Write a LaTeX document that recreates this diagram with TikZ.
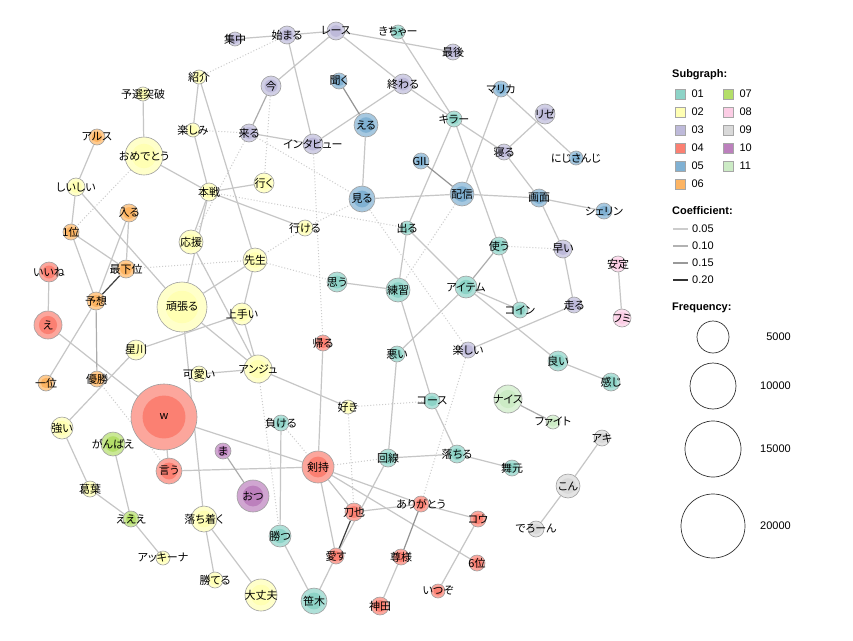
\documentclass[tikz,border=0pt]{standalone}
\usepackage{fontspec}
\newfontfamily\jp[RawFeature=+palt]{Noto Sans CJK JP}
\newfontfamily\lgd{Liberation Sans}
\usetikzlibrary{positioning, backgrounds}

\definecolor{c01}{HTML}{8DD3C7}
\definecolor{c02}{HTML}{FFFFB3}
\definecolor{c03}{HTML}{BEBADA}
\definecolor{c04}{HTML}{FB8072}
\definecolor{c05}{HTML}{80B1D3}
\definecolor{c06}{HTML}{FDB462}
\definecolor{c07}{HTML}{B3DE69}
\definecolor{c08}{HTML}{FCCDE5}
\definecolor{c09}{HTML}{D9D9D9}
\definecolor{c10}{HTML}{BC80BD}
\definecolor{c11}{HTML}{CCEBC5}
\newcommand{\lbl}[1]{\makebox[0pt]{#1}}

\begin{document}
\begin{tikzpicture}[
        x=1pt, y=-1pt,
        wd/.style 2 args={circle, inner sep=0pt, minimum size=2*#1, draw=gray!75, line width=0.6pt,
            fill=#2!70!white, font=\jp\fontsize{11}{12}\selectfont,
            path picture={\fill[#2] (path picture bounding box.center) circle (0.65*#1pt);}},
        e1/.style={draw=gray!45, line width=1.2pt},
        e2/.style={draw=gray!65, line width=1.2pt},
        e3/.style={draw=gray!85, line width=1.2pt},
        e4/.style={draw=black!75, line width=1.2pt},
        dot/.style={draw=gray!40, line width=1pt, dotted},
        sq/.style={rectangle, draw=gray!70, line width=0.6pt, minimum size=10pt, inner sep=0pt},
        lg/.style={font=\lgd\fontsize{11}{13}\selectfont, inner sep=0pt},
        lgh/.style={font=\lgd\bfseries\fontsize{11}{13}\selectfont, inner sep=0pt, anchor=west},
        freq/.style={circle, draw=black!80, line width=0.7pt, inner sep=0pt}
    ]
    \useasboundingbox (0,0) rectangle (853,640);
    \begin{scope}[on background layer]
        \fill[white] (0,0) rectangle (853,640);
    \end{scope}

    % subgraph 01
    \node[wd={7}{c01}] (kicha) at (398,32) {\lbl{きちゃー}};
    \node[wd={8}{c01}] (killer) at (454,119) {\lbl{キラー}};
    \node[wd={7}{c01}] (deru) at (407,228) {\lbl{出る}};
    \node[wd={9}{c01}] (tsukau) at (499,246) {\lbl{使う}};
    \node[wd={10}{c01}] (omou) at (337,282) {\lbl{思う}};
    \node[wd={12}{c01}] (renshu) at (398,290) {\lbl{練習}};
    \node[wd={11}{c01}] (item) at (466,287) {\lbl{アイテム}};
    \node[wd={8}{c01}] (coin) at (520,310) {\lbl{コイン}};
    \node[wd={8}{c01}] (warui) at (397,354) {\lbl{悪い}};
    \node[wd={10}{c01}] (yoi) at (558,361) {\lbl{良い}};
    \node[wd={9}{c01}] (kanji) at (611,382) {\lbl{感じ}};
    \node[wd={8}{c01}] (course) at (432,401) {\lbl{コース}};
    \node[wd={8}{c01}] (makeru) at (281,423) {\lbl{負ける}};
    \node[wd={9}{c01}] (kaisen) at (388,458) {\lbl{回線}};
    \node[wd={9}{c01}] (ochiru) at (457,454) {\lbl{落ちる}};
    \node[wd={8}{c01}] (maimoto) at (512,468) {\lbl{舞元}};
    \node[wd={11}{c01}] (katsu) at (280,536) {\lbl{勝つ}};
    \node[wd={13}{c01}] (sasaki) at (314,601) {\lbl{笹木}};

    % subgraph 02
    \node[wd={7}{c02}] (shokai) at (199,77) {\lbl{紹介}};
    \node[wd={7}{c02}] (yosen) at (143,94) {\lbl{予選突破}};
    \node[wd={19}{c02}] (omedeto) at (144,156) {\lbl{おめでとう}};
    \node[wd={7}{c02}] (tanoshimi) at (193,130) {\lbl{楽しみ}};
    \node[wd={9}{c02}] (shiishii) at (76,187) {\lbl{しいしい}};
    \node[wd={9}{c02}] (honsen) at (209,192) {\lbl{本戦}};
    \node[wd={10}{c02}] (iku) at (264,183) {\lbl{行く}};
    \node[wd={12}{c02}] (ouen) at (191,242) {\lbl{応援}};
    \node[wd={8}{c02}] (ikeru) at (305,228) {\lbl{行ける}};
    \node[wd={12}{c02}] (sensei) at (255,260) {\lbl{先生}};
    \node[wd={25}{c02}] (ganbaru) at (182,307) {\lbl{頑張る}};
    \node[wd={11}{c02}] (umai) at (242,314) {\lbl{上手い}};
    \node[wd={10}{c02}] (hoshikawa) at (136,350) {\lbl{星川}};
    \node[wd={8}{c02}] (kawaii) at (199,374) {\lbl{可愛い}};
    \node[wd={14}{c02}] (ange) at (258,369) {\lbl{アンジュ}};
    \node[wd={7}{c02}] (suki) at (348,407) {\lbl{好き}};
    \node[wd={11}{c02}] (tsuyoi) at (62,428) {\lbl{強い}};
    \node[wd={8}{c02}] (kuzuha) at (90,489) {\lbl{葛葉}};
    \node[wd={13}{c02}] (ochitsuku) at (204,519) {\lbl{落ち着く}};
    \node[wd={7}{c02}] (akkina) at (163,558) {\lbl{アッキーナ}};
    \node[wd={8}{c02}] (kateru) at (215,580) {\lbl{勝てる}};
    \node[wd={16}{c02}] (daijobu) at (261,595) {\lbl{大丈夫}};

    % subgraph 03
    \node[wd={7}{c03}] (shuchu) at (235,39) {\lbl{集中}};
    \node[wd={9}{c03}] (hajimaru) at (287,35) {\lbl{始まる}};
    \node[wd={9}{c03}] (race) at (336,31) {\lbl{レース}};
    \node[wd={8}{c03}] (saigo) at (453,52) {\lbl{最後}};
    \node[wd={10}{c03}] (ima) at (271,86) {\lbl{今}};
    \node[wd={9}{c03}] (kuru) at (249,133) {\lbl{来る}};
    \node[wd={10}{c03}] (interview) at (313,144) {\lbl{インタビュー}};
    \node[wd={10}{c03}] (owaru) at (403,84) {\lbl{終わる}};
    \node[wd={10}{c03}] (lize) at (545,114) {\lbl{リゼ}};
    \node[wd={8}{c03}] (neru) at (504,152) {\lbl{寝る}};
    \node[wd={9}{c03}] (hayai) at (563,249) {\lbl{早い}};
    \node[wd={8}{c03}] (hashiru) at (574,305) {\lbl{走る}};
    \node[wd={8}{c03}] (tanoshii) at (468,350) {\lbl{楽しい}};

    % subgraph 04
    \node[wd={10}{c04}] (iine) at (49,272) {\lbl{いいね}};
    \node[wd={14}{c04}] (e) at (48,325) {\lbl{え}};
    \node[wd={33}{c04}] (w) at (164,417) {\lbl{w}};
    \node[wd={13}{c04}] (iu) at (169,471) {\lbl{言う}};
    \node[wd={16}{c04}] (kenmochi) at (318,467) {\lbl{剣持}};
    \node[wd={8}{c04}] (kaeru) at (323,343) {\lbl{帰る}};
    \node[wd={8}{c04}] (arigato) at (421,504) {\lbl{ありがとう}};
    \node[wd={9}{c04}] (toya) at (354,512) {\lbl{刀也}};
    \node[wd={8}{c04}] (kou) at (478,519) {\lbl{コウ}};
    \node[wd={8}{c04}] (aisu) at (336,556) {\lbl{愛す}};
    \node[wd={8}{c04}] (takasama) at (401,557) {\lbl{尊様}};
    \node[wd={8}{c04}] (rokui) at (477,563) {\lbl{6位}};
    \node[wd={7}{c04}] (itsuzo) at (438,591) {\lbl{いつぞ}};
    \node[wd={9}{c04}] (kanda) at (380,606) {\lbl{神田}};

    % subgraph 05
    \node[wd={8}{c05}] (kiku) at (339,81) {\lbl{聞く}};
    \node[wd={12}{c05}] (eru) at (366,125) {\lbl{える}};
    \node[wd={8}{c05}] (marika) at (501,89) {\lbl{マリカ}};
    \node[wd={7}{c05}] (niji) at (576,158) {\lbl{にじさんじ}};
    \node[wd={8}{c05}] (gil) at (421,161) {\lbl{GIL}};
    \node[wd={12}{c05}] (haishin) at (462,194) {\lbl{配信}};
    \node[wd={13}{c05}] (miru) at (362,199) {\lbl{見る}};
    \node[wd={9}{c05}] (gamen) at (539,198) {\lbl{画面}};
    \node[wd={8}{c05}] (sherin) at (604,211) {\lbl{シェリン}};

    % subgraph 06
    \node[wd={8}{c06}] (arusu) at (97,137) {\lbl{アルス}};
    \node[wd={9}{c06}] (hairu) at (129,213) {\lbl{入る}};
    \node[wd={8}{c06}] (ichii) at (71,232) {\lbl{1位}};
    \node[wd={9}{c06}] (saikai) at (126,269) {\lbl{最下位}};
    \node[wd={9}{c06}] (yoso) at (96,301) {\lbl{予想}};
    \node[wd={8}{c06}] (ichii2) at (46,383) {\lbl{一位}};
    \node[wd={8}{c06}] (yusho) at (97,379) {\lbl{優勝}};

    % subgraphs 07 to 11
    \node[wd={12}{c07}] (ganbae) at (113,444) {\lbl{がんばえ}};
    \node[wd={8}{c07}] (eee) at (131,519) {\lbl{えええ}};
    \node[wd={8}{c08}] (antei) at (618,264) {\lbl{安定}};
    \node[wd={9}{c08}] (fumi) at (622,318) {\lbl{フミ}};
    \node[wd={8}{c09}] (aki) at (602,438) {\lbl{アキ}};
    \node[wd={12}{c09}] (kon) at (568,486) {\lbl{こん}};
    \node[wd={8}{c09}] (deron) at (536,529) {\lbl{でろーん}};
    \node[wd={8}{c10}] (ma) at (223,451) {\lbl{ま}};
    \node[wd={16}{c10}] (otsu) at (253,496) {\lbl{おつ}};
    \node[wd={14}{c11}] (nice) at (508,399) {\lbl{ナイス}};
    \node[wd={7}{c11}] (fight) at (553,422) {\lbl{ファイト}};

    % edges
    \begin{scope}[on background layer]
        \foreach \a/\b in {shuchu/hajimaru, hajimaru/race, hajimaru/interview, race/ima, race/saigo,
            race/owaru, kicha/killer, owaru/interview, owaru/killer, eru/miru, miru/haishin,
            haishin/gamen, gamen/sherin, marika/haishin, marika/niji, lize/neru, killer/neru,
            neru/gamen, gamen/hayai, killer/deru, killer/tsukau, tsukau/coin, deru/item,
            deru/renshu, omou/renshu, renshu/course, item/warui, item/coin, item/yoi, yoi/kanji,
            hayai/hashiru, hashiru/tanoshii, antei/fumi, warui/kaisen, course/ochiru,
            kaisen/ochiru, ochiru/maimoto, kaisen/aisu, kenmochi/toya, kenmochi/aisu,
            kenmochi/rokui, kenmochi/arigato, toya/arigato, arigato/kou, takasama/kanda,
            kou/itsuzo, aki/kon, kon/deron, kenmochi/kaeru, kenmochi/iu, w/kenmochi,
            aisu/sasaki, katsu/sasaki, makeru/katsu, w/iu, w/e, ganbaru/ochitsuku,
            ochitsuku/kateru, ochitsuku/daijobu, ganbae/eee, tsuyoi/kuzuha, kuzuha/eee,
            eee/akkina, tsuyoi/hoshikawa, yoso/ichii2, ichii/yoso, ichii/saikai, hairu/yoso,
            hairu/saikai, shiishii/ichii, shiishii/ganbaru, arusu/shiishii, yosen/omedeto,
            omedeto/honsen, shokai/tanoshimi, tanoshimi/honsen, shokai/sensei, honsen/iku,
            honsen/ikeru, honsen/ouen, honsen/ganbaru, ouen/ange, ganbaru/sensei,
            ganbaru/ange, sensei/umai, umai/ange, umai/hoshikawa, kawaii/ange, ange/suki,
            iine/e, kuru/interview}
            \draw[e1] (\a) -- (\b);
        \foreach \a/\b in {ima/kuru, yoso/yusho, tsukau/item, ma/otsu, nice/fight}
            \draw[e2] (\a) -- (\b);
        \foreach \a/\b in {kiku/eru, gil/haishin, arigato/takasama}
            \draw[e3] (\a) -- (\b);
        \foreach \a/\b in {saikai/yoso, toya/aisu}
            \draw[e4] (\a) -- (\b);
        \foreach \a/\b in {hajimaru/shokai, tanoshimi/kuru, ima/iku, kuru/ouen, kuru/miru,
            interview/kaeru, honsen/deru, sensei/ikeru, ikeru/miru, sensei/omou, saikai/sensei,
            omedeto/ichii, haishin/renshu, miru/tanoshii, tsukau/hayai, tanoshii/arigato,
            suki/course, suki/toya, kenmochi/kaisen, ange/katsu, makeru/kenmochi, yusho/iu}
            \draw[dot] (\a) -- (\b);
    \end{scope}

    % legend
    \node[lgh] (sgtitle) at (672,75) {Subgraph:};
    \foreach \k [count=\i from 0] in {01,02,03,04,05,06} {
        \node[sq, fill=c\k] (sq\k) at (680,94+18*\i) {};
        \node[lg, right=6pt of sq\k] (sqt\k) {\k};
    }
    \foreach \k [count=\i from 0] in {07,08,09,10,11} {
        \node[sq, fill=c\k] (sq\k) at (728,94+18*\i) {};
        \node[lg, right=6pt of sq\k] (sqt\k) {\k};
    }

    \node[lgh] (cftitle) at (672,211) {Coefficient:};
    \foreach \v/\s [count=\i from 0] in {0.05/gray!40, 0.10/gray!60, 0.15/gray!80, 0.20/black!80} {
        \draw[draw=\s, line width=1.4pt] (673,229+17*\i) -- ++(15,0);
        \node[lg, anchor=west] (cf\i) at (692,229+17*\i) {\v};
    }

    \node[lgh] (fqtitle) at (672,308) {Frequency:};
    \foreach \f/\y/\r in {5000/337/16, 10000/386/23, 15000/449/28, 20000/526/32} {
        \node[freq, minimum size=2*\r] (fq\f) at (713,\y) {};
        \node[lg, anchor=east] (fqt\f) at (791,\y) {\f};
    }
\end{tikzpicture}
\end{document}
